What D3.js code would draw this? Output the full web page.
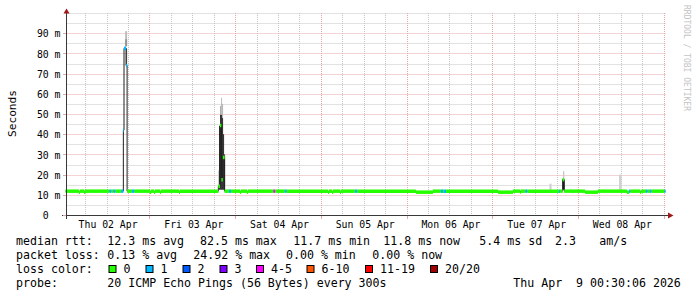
<!DOCTYPE html>
<html>
<head>
<meta charset="utf-8">
<script src="https://cdn.jsdelivr.net/npm/d3@7"></script>
<style>
body { margin: 0; background: #fff; }
svg { display: block; }
text { font-family: "DejaVu Sans Mono", monospace; white-space: pre; }
</style>
</head>
<body>
<svg width="697" height="297"></svg>
<script>
// ---- data ----
// time span of the graph: one week ending Thu Apr 9 00:30:06 2026
var t0 = new Date(2026, 3, 2, 0, 30, 6);
var t1 = d3.timeDay.offset(t0, 7);

var dayLabels = ["Thu 02 Apr", "Fri 03 Apr", "Sat 04 Apr", "Sun 05 Apr", "Mon 06 Apr", "Tue 07 Apr", "Wed 08 Apr"];
var yTicks = [0, 10, 20, 30, 40, 50, 60, 70, 80, 90];
var yTickLabels = ["0  ", "10 m", "20 m", "30 m", "40 m", "50 m", "60 m", "70 m", "80 m", "90 m"];

var lossLabels = ["0", "1", "2", "3", "4-5", "6-10", "11-19", "20/20"];
var lossColors = ["#26ff00", "#00b8ff", "#0059ff", "#7e00ff", "#ff00ff", "#ff5500", "#ff0000", "#a10000"];

// median rtt, step values: [hours after t0, ms, loss bucket]
var medianSteps = [
	[0, 11.8, 0], [3.78, 11.3, 0], [4.06, 11.8, 0], [5.18, 11.3, 0], [5.46, 11.8, 0],
	[12.3, 11.8, 1], [12.86, 11.8, 0], [13.42, 11.8, 1], [13.98, 11.8, 0],
	[15.6, 11.8, 1], [16.2, 42, 1], [16.38, 82.5, 1], [16.95, 74, 1], [17.25, 11.8, 0],
	[18.6, 11.8, 1], [19.3, 11.8, 0],
	[23.66, 11.3, 0], [23.94, 11.8, 0], [24.78, 11.3, 0], [25.06, 11.8, 0],
	[26.46, 11.3, 0], [26.74, 11.8, 0], [31.78, 11.3, 0], [32.06, 11.8, 0],
	[42.8, 14.2, 0], [43.25, 44.3, 0], [43.65, 17.5, 0], [44.05, 28.5, 0], [44.55, 11.8, 0],
	[45.8, 11.8, 1], [46.35, 11.8, 0],
	[48.86, 11.3, 0], [49.14, 11.8, 0], [50.82, 11.3, 0], [51.1, 11.8, 0],
	[58.2, 11.8, 4], [58.75, 11.8, 0], [61.4, 11.8, 1], [61.95, 11.8, 0],
	[73.5, 11.3, 0], [73.78, 11.8, 0], [74.62, 11.3, 0], [74.9, 11.8, 0],
	[76.86, 11.3, 0], [77.14, 11.8, 0], [81.1, 11.8, 1], [81.7, 11.8, 0],
	[98.1, 11.3, 0], [102.9, 11.8, 0],
	[105.1, 11.8, 1], [105.7, 11.8, 0], [105.98, 11.8, 1], [106.54, 11.8, 0],
	[121.1, 11.3, 0], [125.3, 11.8, 0], [127.3, 11.3, 0], [127.5, 11.8, 0],
	[128.76, 11.8, 1], [129.3, 11.8, 0], [138.2, 11.8, 1], [138.5, 11.8, 0],
	[139.2, 17.5, 0], [139.66, 11.8, 0],
	[145.5, 11.3, 0], [149.1, 11.8, 0], [157.2, 11.3, 0], [157.8, 11.8, 1], [158.2, 11.8, 0],
	[160.9, 11.3, 0], [161.2, 11.8, 0],
	[162.5, 11.8, 1], [163.0, 11.8, 0], [163.6, 11.8, 1], [164.1, 11.8, 0],
	[167.7, 11.8, 1]
];

// smoke (spread of the 20 pings): [from h, to h, low ms, high ms, density 0-10]
var smoke = [
	[16.7, 17.25, 83.5, 91, 2], [16.7, 17.25, 83.5, 87, 4], [16.95, 17.25, 74, 82.5, 7],
	[42.7, 43.0, 12.5, 22, 1],
	[43.0, 43.28, 12.5, 44, 9.5],
	[43.28, 43.56, 12.5, 49.7, 9.5], [43.28, 43.56, 49.7, 54, 3],
	[43.56, 43.84, 12.5, 49.7, 9.5], [43.56, 43.84, 49.7, 58, 2],
	[43.84, 44.12, 12.5, 48, 9.5], [43.84, 44.12, 48, 55, 2.5],
	[44.12, 44.40, 12.5, 40, 9.5],
	[44.40, 44.68, 12.5, 30, 9],
	[135.5, 136.1, 12.5, 15.5, 1],
	[139.2, 139.66, 12.5, 17.5, 10], [139.3, 139.66, 17.5, 21.7, 1.5],
	[155.0, 155.7, 12.5, 20, 1]
];

var rttStats = ["median rtt:", "12.3 ms avg", "82.5 ms max", "11.7 ms min", "11.8 ms now", "5.4 ms sd", "2.3", "am/s"];
var lossStats = ["packet loss:", "0.13 % avg", "24.92 % max", "0.00 % min", "0.00 % now"];
var probeInfo = ["probe:", "20 ICMP Echo Pings (56 Bytes) every 300s", "Thu Apr  9 00:30:06 2026"];

// ---- layout ----
var svg = d3.select("svg");
var plotLeft = 65.5, plotRight = 665.5, plotTop = 13, plotBottom = 215;

var x = d3.scaleTime().domain([t0, t1]).range([plotLeft, plotRight]);
var y = d3.scaleLinear().domain([0, 100]).range([plotBottom, plotTop]);
var shade = d3.scaleLinear().domain([0, 10]).range(["#e4e4e4", "#1e1e1e"]);

function hour(h) { return new Date(+t0 + h * 36e5); }
function crisp(v) { return Math.round(v) + 0.5; }

// grid
var grid = svg.append("g");
d3.range(5, 101, 5).forEach(function(v) {
	var major = v % 10 == 0 && v < 100;
	grid.append("line")
		.attr("x1", 66.5).attr("x2", 665.5)
		.attr("y1", crisp(y(v))).attr("y2", crisp(y(v)))
		.attr("stroke", major ? "#e4a8a8" : "#c4c4c4")
		.style("stroke-dasharray", "1,1");
});
d3.timeHour.every(6).range(t0, t1).forEach(function(d) {
	var major = d.getHours() == 0;
	grid.append("line")
		.attr("x1", crisp(x(d))).attr("x2", crisp(x(d)))
		.attr("y1", plotTop).attr("y2", plotBottom)
		.attr("stroke", major ? "#e4a8a8" : "#c4c4c4")
		.style("stroke-dasharray", "1,1");
});

// smoke
svg.append("g").selectAll("rect")
	.data(smoke)
	.enter().append("rect")
	.attr("x", function(d) { return x(hour(d[0])); })
	.attr("width", function(d) { return x(hour(d[1])) - x(hour(d[0])); })
	.attr("y", function(d) { return y(d[3]); })
	.attr("height", function(d) { return y(d[2]) - y(d[3]); })
	.attr("fill", function(d) { return shade(d[4]); });

// median: thin dark connecting line, then loss coloured pieces
var ends = medianSteps.concat([[168, medianSteps[medianSteps.length - 1][1], 0]]);
var stepLine = d3.line()
	.x(function(d) { return x(hour(d[0])); })
	.y(function(d) { return y(d[1]); })
	.curve(d3.curveStepAfter);
svg.append("path")
	.datum(ends)
	.attr("d", stepLine)
	.attr("fill", "none")
	.attr("stroke", "#202020")
	.attr("stroke-width", 1);

svg.append("g").selectAll("line")
	.data(medianSteps)
	.enter().append("line")
	.attr("x1", function(d) { return x(hour(d[0])); })
	.attr("x2", function(d, i) { return x(hour(ends[i + 1][0])); })
	.attr("y1", function(d) { return y(d[1]); })
	.attr("y2", function(d) { return y(d[1]); })
	.attr("stroke", function(d) { return lossColors[d[2]]; })
	.attr("stroke-width", 3.5);

// axes
var axisColor = "#383838";
svg.append("line").attr("x1", 62).attr("x2", 668).attr("y1", 215.5).attr("y2", 215.5).attr("stroke", axisColor);
svg.append("line").attr("x1", 66.5).attr("x2", 66.5).attr("y1", 11).attr("y2", 219).attr("stroke", axisColor);
svg.append("path").attr("d", "M63.5,13.5L66.5,8.5L69.5,13.5Z").attr("fill", "#a01818");
svg.append("path").attr("d", "M668,212.5L673.5,215.5L668,218.5Z").attr("fill", "#a01818");

// major ticks
yTicks.forEach(function(v) {
	svg.append("line").attr("x1", 63).attr("x2", 66).attr("y1", crisp(y(v))).attr("y2", crisp(y(v))).attr("stroke", "#e4a8a8");
});
d3.timeDay.range(t0, t1).forEach(function(d) {
	svg.append("line").attr("x1", crisp(x(d))).attr("x2", crisp(x(d))).attr("y1", 216).attr("y2", 219).attr("stroke", "#e4a8a8");
});

var noons = d3.timeDay.range(d3.timeDay.floor(t0), d3.timeDay.floor(t1)).map(function(d) { return d3.timeHour.offset(d, 12); });
var xAxis = svg.append("g")
	.attr("transform", "translate(1,215)")
	.call(d3.axisBottom(x).tickValues(noons).tickSize(0).tickFormat(function(d, i) { return dayLabels[i]; }));
xAxis.select(".domain").remove();
xAxis.selectAll("text").attr("y", 12.5).attr("dy", 0)
	.attr("fill", "#000").style("font-size", "9.8px").style("font-family", "DejaVu Sans Mono");

var yAxis = svg.append("g")
	.attr("transform", "translate(60.5,0.5)")
	.call(d3.axisLeft(y).tickValues(yTicks).tickSize(0).tickPadding(0).tickFormat(function(d, i) { return yTickLabels[i]; }));
yAxis.select(".domain").remove();
yAxis.selectAll("text").attr("dy", "0.32em").attr("xml:space", "preserve")
	.attr("fill", "#000").style("font-size", "9.8px").style("font-family", "DejaVu Sans Mono");

// titles
svg.append("text")
	.attr("transform", "translate(15.5,113.5) rotate(-90)")
	.attr("text-anchor", "middle")
	.style("font-size", "11.2px")
	.text("Seconds");
svg.append("text")
	.attr("transform", "translate(684,5) rotate(90)")
	.attr("fill", "#c4c4c4")
	.style("font-size", "8px")
	.text("RRDTOOL / TOBI OETIKER");

// legend
var legendFont = "11.6px";
function legendText(str, lx, ly) {
	svg.append("text")
		.attr("x", lx).attr("y", ly)
		.attr("xml:space", "preserve")
		.style("font-size", legendFont)
		.attr("fill", "#000")
		.text(str);
}
var rttX = [16, 107.3, 200, 293.3, 383.3, 479.3, 555, 599.3];
rttStats.forEach(function(s, i) { legendText(s, rttX[i], 245); });
var lossX = [16, 107.3, 193.3, 286, 372.3];
lossStats.forEach(function(s, i) { legendText(s, lossX[i], 259); });

legendText("loss color:", 16, 273);
var boxX = [108.5, 145.5, 182.5, 219.5, 256, 306.5, 365, 430];
lossLabels.forEach(function(s, i) {
	svg.append("rect")
		.attr("x", boxX[i] + 0.5).attr("y", 265.5)
		.attr("width", 7).attr("height", 7)
		.attr("fill", lossColors[i])
		.attr("stroke", "#000");
	legendText(s, boxX[i] + 15, 273);
});

var probeX = [16, 107.3, 513.3];
probeInfo.forEach(function(s, i) { legendText(s, probeX[i], 287); });
</script>
</body>
</html>
